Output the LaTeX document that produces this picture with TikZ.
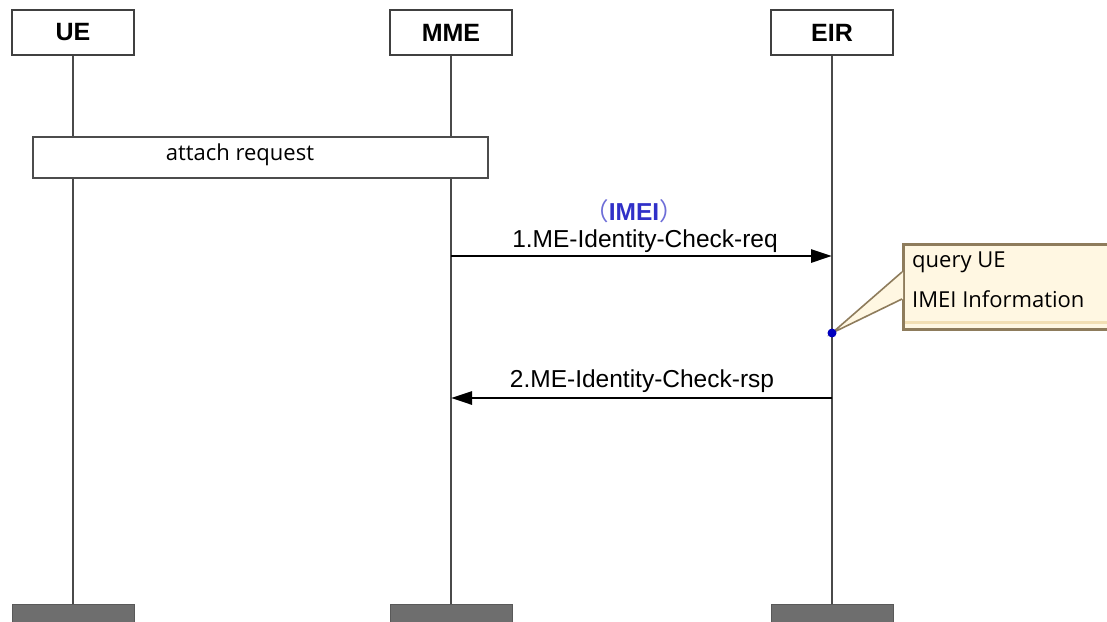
\documentclass[tikz,border=0pt]{standalone}
\usepackage{fontspec}
\setmainfont{Liberation Sans}
\newfontfamily\notefont{Open Sans}
\newfontfamily\cjkfont{Noto Sans CJK SC}
\usetikzlibrary{arrows.meta}
\definecolor{notefill}{HTML}{FFF7E2}
\definecolor{noteband}{HTML}{F2DFB4}
\definecolor{noteline}{HTML}{8E7C5C}
\definecolor{imeiblue}{HTML}{3030C8}
\definecolor{endgray}{HTML}{6E6E6E}
\definecolor{lifegray}{HTML}{4A4A4A}

\begin{document}
\begin{tikzpicture}[x=1pt,y=-1pt,
  head/.style={draw=black!75,line width=1.8pt,fill=white,minimum width=122pt,minimum height=45pt,inner sep=0pt,font=\fontsize{25}{29}\selectfont\bfseries},
  foot/.style={draw=black!65,line width=1pt,fill=endgray,minimum width=122pt,minimum height=24pt,anchor=north},
  msg/.style={line width=2.8pt,-{Triangle[length=21pt,width=13pt]}},
  lbl/.style={font=\fontsize{24.5}{28}\selectfont,inner sep=0pt}]
\useasboundingbox (0,0) rectangle (1107,621);
\fill[white] (0,0) rectangle (1107,621);

% lifelines
\node[head] (ue) at (73,32.5) {UE};
\node[head] (mme) at (451,32.5) {MME};
\node[head] (eir) at (832,32.5) {EIR};
\node[foot] (ueend) at (73,604) {};
\node[foot] (mmeend) at (451,604) {};
\node[foot] (eirend) at (832,604) {};
\foreach \n in {ue,mme,eir} {
\draw[lifegray,line width=2pt] (\n.south) -- (\n end.north);
}

\node[draw=black!70,line width=1.6pt,fill=white,minimum width=455pt,minimum height=41pt] (attach) at (260.5,157.5) {};
\node[font=\notefont\fontsize{22}{26}\selectfont,inner sep=0pt] (attachtxt) at (240,155) {attach request};

\coordinate (y1) at (0,256);
\coordinate (y2) at (0,398);
\coordinate (ydot) at (0,333);

\draw[msg] (mme |- y1) -- (eir |- y1);
\node[lbl] (req) at (645,241) {1.ME-Identity-Check-req};
\node[lbl,text=imeiblue] (imei) at (634,211) {{\cjkfont\color{imeiblue!70}（}{\bfseries IMEI}{\cjkfont\color{imeiblue!70}）}};
\draw[msg] (eir |- y2) -- (mme |- y2);
\node[lbl] (rsp) at (642,381) {2.ME-Identity-Check-rsp};

% note on EIR
\coordinate (dot) at (eir |- ydot);
\node[draw=noteline,fill=notefill,line width=2.5pt,minimum width=220pt,minimum height=85pt,anchor=north west] (note) at (902,243) {};
\draw[noteband,line width=3pt] (905,322) -- (1107,322);
\fill[notefill] (903,272) -- (dot) -- (903,299) -- cycle;
\draw[noteline,line width=1.6pt] (note.west |- 0,272) -- (dot) -- (note.west |- 0,299);
\fill[blue!75!black] (dot) circle (4.5pt);
\node[font=\notefont\fontsize{22}{26}\selectfont,anchor=west,inner sep=0pt] (q1) at (912,262) {query UE};
\node[font=\notefont\fontsize{22}{26}\selectfont,anchor=west,inner sep=0pt] (q2) at (912,299) {IMEI Information};
\end{tikzpicture}
\end{document}
